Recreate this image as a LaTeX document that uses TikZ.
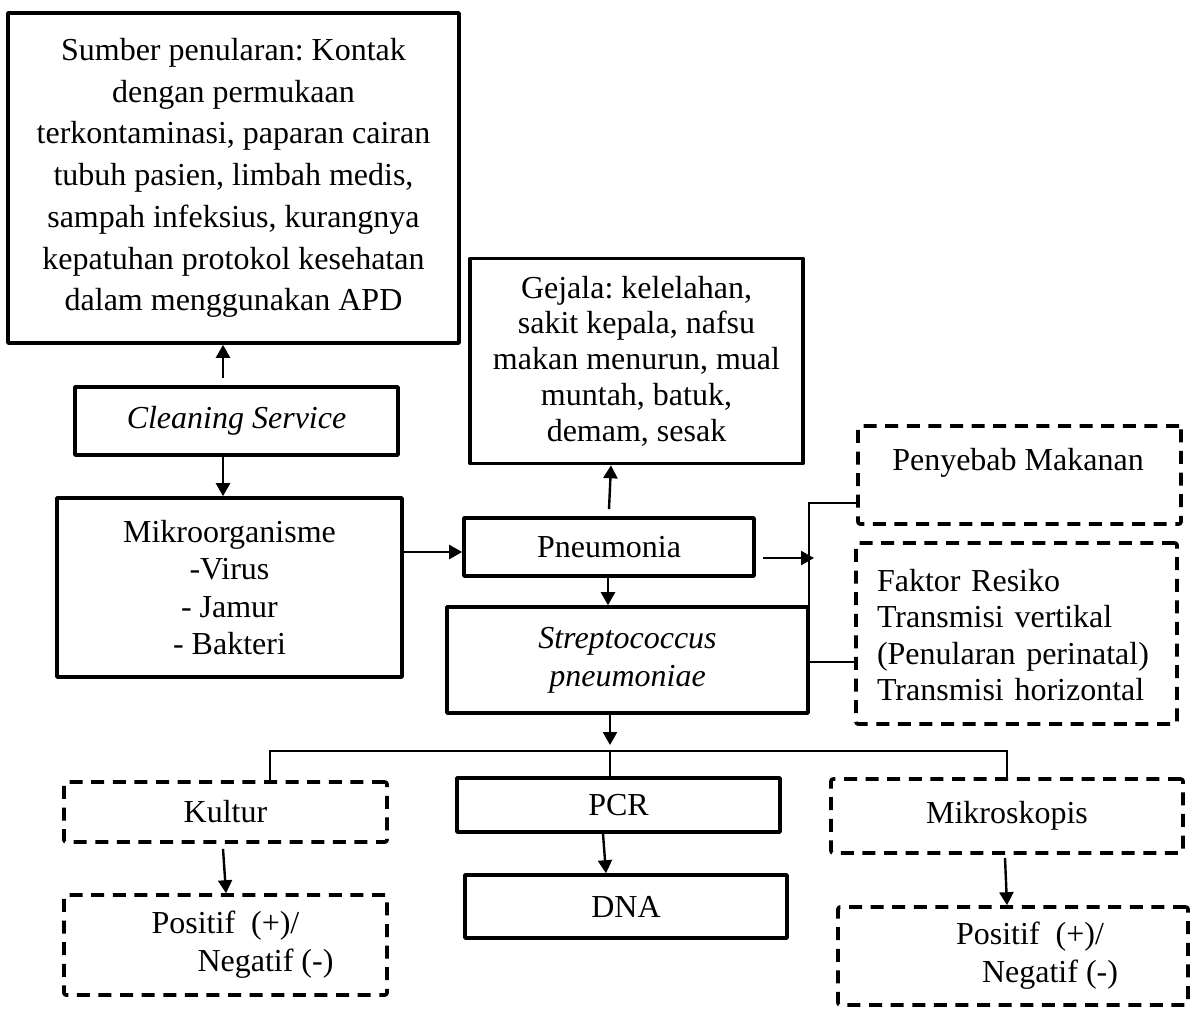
\documentclass[tikz,border=0pt]{standalone}
\usepackage{fontspec}
\setmainfont{Liberation Serif}
\usetikzlibrary{arrows.meta}
\frenchspacing
\begin{document}
\begin{tikzpicture}[x=0.5pt,y=-0.5pt,
  box/.style={draw, line width=1.8pt, inner sep=0pt, align=center, line join=round,
    font=\fontsize{16pt}{18.5pt}\selectfont},
  dbox/.style={box, dash pattern=on 6.5pt off 4.3pt, rounded corners=1pt},
  txt/.style={inner sep=0pt, font=\fontsize{16pt}{18.5pt}\selectfont},
  arr/.style={line width=1.2pt, -{Triangle[length=6.5pt,width=7pt]}},
  thinline/.style={line width=0.75pt}]
\useasboundingbox (0,0) rectangle (1200,1008);

% boxes
\node[box, minimum width=225.5pt, minimum height=165pt,
  font=\fontsize{16pt}{20.85pt}\selectfont] (sumber) at (233.5,178)
  {Sumber penularan: Kontak\\ dengan permukaan\\ terkontaminasi, paparan cairan\\
   tubuh pasien, limbah medis,\\ sampah infeksius, kurangnya\\
   kepatuhan protokol kesehatan\\ dalam menggunakan APD};
\node[box, minimum width=161.5pt, minimum height=34pt] (clean) at (236.5,421)
  {\itshape Cleaning Service};
\node[box, minimum width=172.5pt, minimum height=89.5pt,
  font=\fontsize{16pt}{18.75pt}\selectfont] (mikro) at (229.5,587.5)
  {Mikroorganisme\\ -Virus\\ - Jamur\\ - Bakteri};
\node[box, minimum width=166.5pt, minimum height=102.5pt,
  font=\fontsize{16pt}{17.9pt}\selectfont] (gejala) at (636.5,361)
  {Gejala: kelelahan,\\ sakit kepala, nafsu\\ makan menurun, mual\\ muntah, batuk,\\ demam, sesak};
\node[box, minimum width=145pt, minimum height=29pt] (pneu) at (609,547) {Pneumonia};
\node[box, minimum width=180.5pt, minimum height=53pt,
  font=\fontsize{16pt}{19pt}\selectfont\itshape] (strep) at (627.5,660)
  {Streptococcus\\ pneumoniae};

\node[dbox, minimum width=161.5pt, minimum height=49pt] (peny) at (1019.5,475) {};
\node[txt] (penytxt) at (1018,463) {Penyebab Makanan};
\node[dbox, minimum width=160.5pt, minimum height=90.5pt] (faktor) at (1016.5,633.5) {};
\node[txt, text width=139pt, align=left, font=\fontsize{16pt}{18.3pt}\selectfont]
  (faktortxt) at (1016,635)
  {Faktor Resiko\\ \makebox[139pt][s]{Transmisi vertikal}\\ (Penularan perinatal)\\ Transmisi horizontal};

\node[dbox, minimum width=161.5pt, minimum height=30pt] (kultur) at (225.5,812) {Kultur};
\node[dbox, minimum width=161.5pt, minimum height=50pt,
  font=\fontsize{16pt}{19pt}\selectfont] (posL) at (225.5,945)
  {Positif\ \ (+)/\\ \hspace*{40pt}Negatif (-)};
\node[box, minimum width=161.5pt, minimum height=27pt] (pcr) at (618.5,805) {PCR};
\node[box, minimum width=161pt, minimum height=31.5pt] (dna) at (626,906.5) {DNA};
\node[dbox, minimum width=176pt, minimum height=37pt] (mikros) at (1007,816) {Mikroskopis};
\node[dbox, minimum width=175pt, minimum height=49pt] (posR) at (1013,956) {};
\node[txt, align=center, font=\fontsize{16pt}{19pt}\selectfont] (posRtxt) at (1030,956)
  {Positif\ \ (+)/\\ \hspace*{20pt}Negatif (-)};

% connectors
\draw[arr] ([xshift=-6.75pt,yshift=3.5pt]clean.north) -- ([xshift=-6.75pt]clean.north |- sumber.south);
\draw[arr] ([xshift=-6.75pt]clean.south) -- ([xshift=-6.75pt]clean.south |- mikro.north);
\draw[arr] ([yshift=17.75pt]mikro.east) -- ([yshift=17.75pt]mikro.east -| pneu.west);
\draw[arr] ([yshift=3.5pt]pneu.north) -- ([xshift=1pt]pneu.north |- gejala.south);
\draw[arr] ([xshift=-0.5pt]pneu.south) -- ([xshift=-0.5pt]pneu.south |- strep.north);

\coordinate (brtop) at (809,503);
\coordinate (brbot) at (809,662);
\draw[thinline] (peny.west |- brtop) -- (brtop) -- (brbot) -- (brbot -| faktor.west);
\draw[arr, shorten >=1pt] ([xshift=3.5pt,yshift=-5.5pt]pneu.east) -- ([xshift=3.5pt,yshift=-5.5pt]pneu.east -| brtop);

\coordinate (tj) at (610,751);
\coordinate (tl) at (270,751);
\coordinate (tr) at (1007,751);
\draw[arr, shorten >=3pt] ([xshift=-8.75pt]strep.south) -- (tj);
\draw[thinline] (tl |- kultur.north) -- (tl) -- (tr) -- (tr |- mikros.north);
\draw[thinline] (tj) -- (tj |- pcr.north);

\draw[arr] ([xshift=-1.25pt,yshift=-2.5pt]kultur.south) -- ([xshift=0.25pt]kultur.south |- posL.north);
\draw[arr] ([xshift=-7.75pt]pcr.south) -- ([xshift=-6.25pt]pcr.south |- dna.north);
\draw[arr] ([xshift=-1pt,yshift=-1.5pt]mikros.south) -- (mikros.south |- posR.north);
\end{tikzpicture}
\end{document}
